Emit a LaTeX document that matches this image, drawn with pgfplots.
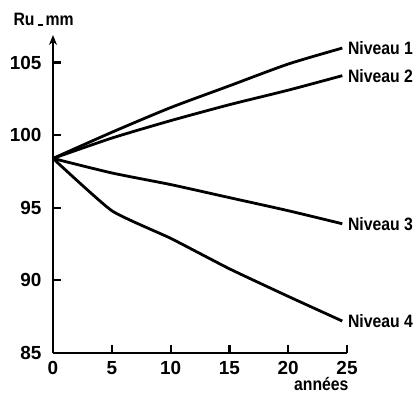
\documentclass[border=0pt]{standalone}
\usepackage{pgfplots}
\pgfplotsset{compat=1.18}
\usetikzlibrary{arrows.meta}
\usepackage{fontspec}
\setmainfont{Liberation Sans}
\newfontfamily\narrowfont[FakeStretch=0.88]{Liberation Sans Bold}
\begin{document}
\begin{tikzpicture}
\useasboundingbox (0,0) rectangle (418bp,393bp);
\begin{axis}[
  at={(53bp,40bp)}, anchor=south west,
  scale only axis, width=294bp, height=318bp,
  xmin=0, xmax=25, ymin=85, ymax=106.9,
  axis lines=left,
  x axis line style={-},
  y axis line style={-{Stealth[length=10bp,width=8bp]}},
  axis line style={line width=2.2bp},
  xtick={0,5,...,25}, ytick={90,95,100,105},
  extra y ticks={85}, extra y tick style={major tick length=0pt},
  tick align=inside, major tick length=8bp,
  tick style={line width=2.2bp, black},
  /pgf/number format/assume math mode=true,
  ticklabel style={font=\fontsize{19}{19}\selectfont\bfseries},
  yticklabel style={xshift=-8bp},
  xticklabel style={yshift=-5bp},
  clip=false,
]
\addplot[black, no marks, line width=2.8bp, smooth, tension=0.4] coordinates {(0,98.4) (5,100.2) (10,101.9) (15,103.4) (20,104.9) (24.6,106)}
  node[pos=1, anchor=west, xshift=1bp, font=\fontsize{18}{18}\narrowfont] {Niveau 1};
\addplot[black, no marks, line width=2.8bp, smooth, tension=0.4] coordinates {(0,98.4) (5,99.8) (10,101) (15,102.1) (20,103.1) (24.6,104.1)}
  node[pos=1, anchor=west, xshift=1bp, font=\fontsize{18}{18}\narrowfont] {Niveau 2};
\addplot[black, no marks, line width=2.8bp, smooth, tension=0.4] coordinates {(0,98.4) (5,97.4) (10,96.6) (15,95.7) (20,94.8) (24.6,93.9)}
  node[pos=1, anchor=west, xshift=1bp, font=\fontsize{18}{18}\narrowfont] {Niveau 3};
\addplot[black, no marks, line width=2.8bp, smooth, tension=0.3] coordinates {(0,98.4) (5,94.8) (10,92.9) (15,90.8) (20,88.9) (24.6,87.2)}
  node[pos=1, anchor=west, xshift=1bp, font=\fontsize{18}{18}\narrowfont] {Niveau 4};
\end{axis}
\node[anchor=base west, font=\fontsize{18}{18}\narrowfont] at (10bp,367bp) {Ru\,\rule{5bp}{1.8bp}\,mm};
\node[anchor=base east, font=\fontsize{18}{18}\narrowfont] at (352bp,2.5bp) {années};
\end{tikzpicture}
\end{document}
